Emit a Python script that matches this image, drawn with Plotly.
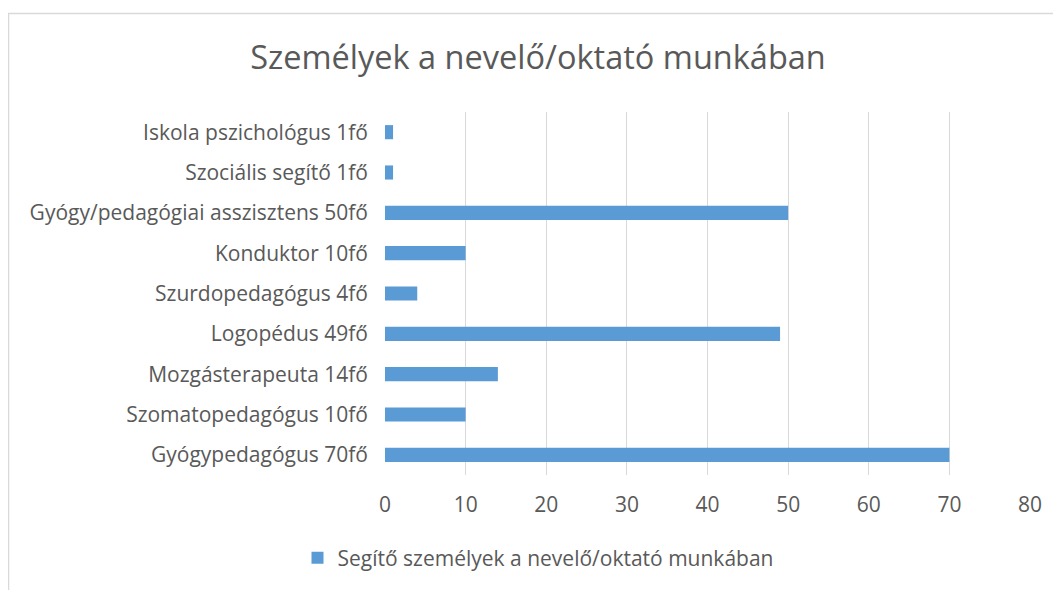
import plotly.graph_objects as go

categories = [
    "Gyógypedagógus 70fő",
    "Szomatopedagógus 10fő",
    "Mozgásterapeuta 14fő",
    "Logopédus 49fő",
    "Szurdopedagógus 4fő",
    "Konduktor 10fő",
    "Gyógy/pedagógiai asszisztens 50fő",
    "Szociális segítő 1fő",
    "Iskola pszichológus 1fő",
]
values = [70, 10, 14, 49, 4, 10, 50, 1, 1]
series_name = "Segítő személyek a nevelő/oktató munkában"
title_text = "Személyek a nevelő/oktató munkában"
x_ticks = [0, 10, 20, 30, 40, 50, 60, 70, 80]

FONT = "Open Sans"
GREY = "#595959"

W, H = 1061, 590
L, R, T, B = 377, 39, 104, 123
pw = W - L - R
ph = H - T - B

def px_to_paper_x(px):
    return (px - L) / pw

def px_to_paper_y(py):
    return (H - B - py) / ph

fig = go.Figure()
fig.add_trace(go.Bar(
    y=categories, x=values, orientation="h",
    marker=dict(color="#5B9BD5", line=dict(width=0)),
    name=series_name, showlegend=True,
))

fig.update_layout(
    width=W, height=H,
    margin=dict(l=L, r=R, t=T, b=B),
    paper_bgcolor="white", plot_bgcolor="white",
    font=dict(family=FONT, color=GREY, size=21),
    bargap=0.65,
    title=dict(text=title_text, x=530 / W, xref="container", xanchor="center",
               y=1 - 50 / H, yref="container", yanchor="middle",
               font=dict(size=32.5, color=GREY, family=FONT)),
    xaxis=dict(range=[0, 80], tickvals=x_ticks, showgrid=True, gridcolor="#d9d9d9",
               gridwidth=1, zeroline=False, showline=False, ticks="",
               tickfont=dict(size=21, color=GREY), ticklabelstandoff=15,
               fixedrange=True),
    yaxis=dict(showgrid=False, zeroline=False, showline=False, ticks="",
               tickfont=dict(size=21, color=GREY), ticklabelstandoff=16,
               categoryorder="array", categoryarray=categories),
    legend=dict(orientation="h", xref="container", yref="container",
                x=530 / W, xanchor="center", y=1 - 550 / H, yanchor="middle",
                font=dict(size=21, color=GREY), itemwidth=30),
    shapes=[dict(type="rect", xref="paper", yref="paper",
                 x0=px_to_paper_x(0.5), x1=px_to_paper_x(1075),
                 y0=px_to_paper_y(600), y1=px_to_paper_y(5.5),
                 line=dict(color="#d9d9d9", width=1.5), fillcolor="rgba(0,0,0,0)",
                 layer="below")],
)

fig.write_html("out.html")
